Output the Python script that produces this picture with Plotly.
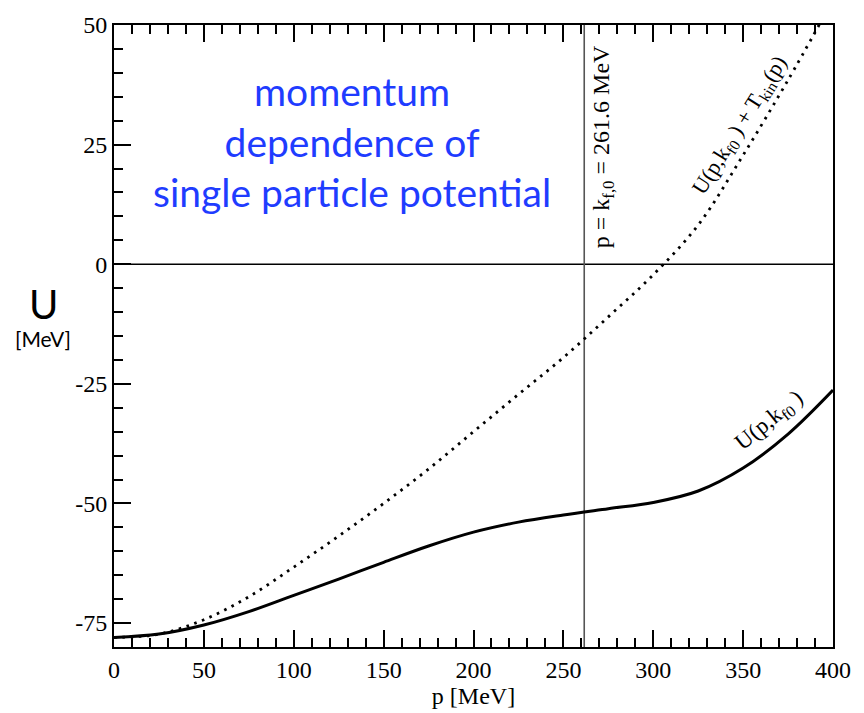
import plotly.graph_objects as go

# Data
p_solid = [0, 25, 50, 75, 100, 125, 150, 175, 200, 225, 250, 275, 300, 325, 350, 375, 400]
u_solid = [-78.0, -77.3, -75.4, -72.6, -69.2, -65.8, -62.3, -58.9, -56.0, -53.9, -52.4,
           -51.1, -49.8, -47.4, -42.6, -35.5, -26.3]

p_dot = [0, 25, 50, 75, 100, 125, 150, 175, 200, 225, 250, 275, 300, 325, 350, 375, 393]
u_dot = [-78.0, -77.3, -74.3, -69.5, -63.3, -56.8, -50.0, -42.8, -35.0, -27.2, -19.5,
         -11.0, -2.2, 8.2, 22.8, 38.5, 50.5]

kf0 = 261.6
x_ticks = [0, 50, 100, 150, 200, 250, 300, 350, 400]
y_ticks = [50, 25, 0, -25, -50, -75]
y_ticktext = ["50", "25", "0", "-25", "-50", "-75"]

serif = "Times New Roman, Liberation Serif, serif"
sans = "Lato"

fig = go.Figure()

# zero line and vertical k_f line
fig.add_trace(go.Scatter(x=[0, 400], y=[0, 0], mode="lines",
                         line=dict(color="black", width=1.6), hoverinfo="skip", showlegend=False))
fig.add_trace(go.Scatter(x=[kf0, kf0], y=[-80, 50], mode="lines",
                         line=dict(color="#555555", width=1.6), hoverinfo="skip", showlegend=False))

fig.add_trace(go.Scatter(x=p_dot, y=u_dot, mode="lines", line_shape="spline",
                         line=dict(color="black", width=2.8, dash="2.6px,5.6px"),
                         showlegend=False))
fig.add_trace(go.Scatter(x=p_solid, y=u_solid, mode="lines", line_shape="spline",
                         line=dict(color="black", width=3), showlegend=False))

fig.update_layout(
    width=864, height=713,
    margin=dict(l=114, r=31, t=16, b=66),
    paper_bgcolor="white", plot_bgcolor="white",
    font=dict(family=serif, color="black"),
    xaxis=dict(range=[0, 400], tickvals=x_ticks, ticks="inside", ticklen=17, tickwidth=1.5,
               tickcolor="black", showline=True, linecolor="black", linewidth=2,
               mirror="ticks", showgrid=False, zeroline=False,
               minor=dict(dtick=10, ticks="inside", ticklen=9, tickwidth=1.5, tickcolor="black",
                          showgrid=False),
               tickfont=dict(family=serif, size=24, color="black"),
               title=dict(text="p [MeV]", font=dict(family=serif, size=24, color="black"),
                          standoff=0)),
    yaxis=dict(range=[-80, 50], tickvals=y_ticks, ticktext=y_ticktext, ticks="inside",
               ticklen=17, tickwidth=1.5, tickcolor="black", showline=True, linecolor="black",
               linewidth=2, mirror=True, showgrid=False, zeroline=False,
               minor=dict(dtick=5, ticks="inside", ticklen=9, tickwidth=1.5, tickcolor="black",
                          showgrid=False),
               tickfont=dict(family=serif, size=24, color="black")),
)

annotations = [
    dict(x=352, y=134, text="momentum<br>dependence of<br>single particle potential",
         showarrow=False, font=dict(family=sans, size=39, color="#1f3cff"), align="center"),
    dict(x=43, y=299, text="U", showarrow=False, font=dict(family=sans, size=40, color="black")),
    dict(x=43, y=334, text="[MeV]", showarrow=False, font=dict(family=sans, size=21, color="black")),
    dict(x=603, y=140, text="p = k<sub>f,0</sub> = 261.6 MeV", textangle=-90, showarrow=False,
         font=dict(family=serif, size=24, color="black")),
    dict(x=740, y=118, text="U(p,k<sub>f0</sub> ) + T<sub>kin</sub>(p)", textangle=-58, showarrow=False,
         font=dict(family=serif, size=22, color="black")),
    dict(x=770, y=418, text="U(p,k<sub>f0</sub> )", textangle=-39, showarrow=False,
         font=dict(family=serif, size=23, color="black")),
]
# convert pixel positions to paper coords
L, R, T, B = 114, 833, 16, 647
for a in annotations:
    px, py = a["x"], a["y"]
    a["x"] = (px - L) / (R - L)
    a["y"] = (B - py) / (B - T)
    a["xref"] = "paper"
    a["yref"] = "paper"
    a["xanchor"] = "center"
    a["yanchor"] = "middle"
fig.update_layout(annotations=annotations)

fig.write_html("out.html")
